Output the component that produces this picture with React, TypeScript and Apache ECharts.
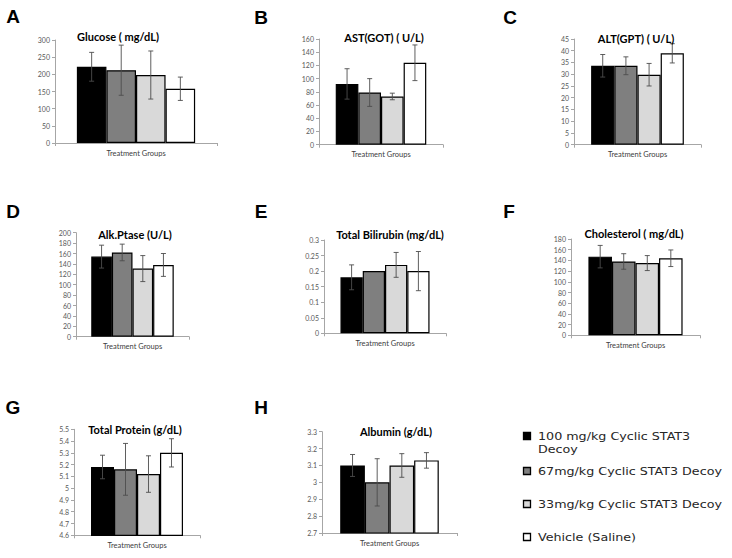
import React, { useEffect, useRef } from "react";
import * as echarts from "echarts";

// ---------- data ----------
const groups = [
  "100 mg/kg Cyclic STAT3 Decoy",
  "67mg/kg Cyclic STAT3 Decoy",
  "33mg/kg Cyclic STAT3 Decoy",
  "Vehicle (Saline)",
];
const category = ["Treatment Groups"];
const panelLetters = ["A", "B", "C", "D", "E", "F", "G", "H"];
const titles = [
  "Glucose ( mg/dL)",
  "AST(GOT) ( U/L)",
  "ALT(GPT) ( U/L)",
  "Alk.Ptase (U/L)",
  "Total Bilirubin (mg/dL)",
  "Cholesterol ( mg/dL)",
  "Total Protein (g/dL)",
  "Albumin (g/dL)",
];
const glucoseMean = [222, 212, 198, 158];
const glucoseSD = [42, 73, 70, 34];
const astMean = [92, 79, 73, 124];
const astSD = [23, 21, 5, 27];
const altMean = [33.6, 33.6, 29.8, 38.9];
const altSD = [4.8, 3.8, 4.8, 4.1];
const alpMean = [154, 162, 131, 138];
const alpSD = [22, 16, 25, 22];
const bilMean = [0.18, 0.2, 0.22, 0.2];
const bilSD = [0.04, 0, 0.04, 0.063];
const cholMean = [147, 138, 135, 144];
const cholSD = [21, 14.5, 14, 15.5];
const protMean = [5.18, 5.16, 5.12, 5.3];
const protSD = [0.1, 0.22, 0.155, 0.12];
const albMean = [3.1, 3.0, 3.1, 3.13];
const albSD = [0.065, 0.14, 0.07, 0.046];
const yMins = [0, 0, 0, 0, 0, 0, 4.6, 2.7];
const yMaxs = [300, 160, 45, 200, 0.3, 180, 5.5, 3.3];
const yIntervals = [50, 20, 5, 20, 0.05, 20, 0.1, 0.1];

const means = [glucoseMean, astMean, altMean, alpMean, bilMean, cholMean, protMean, albMean];
const sds = [glucoseSD, astSD, altSD, alpSD, bilSD, cholSD, protSD, albSD];

// ---------- styles / layout ----------
const barColors = ["#000000", "#7f7f7f", "#d9d9d9", "#ffffff"];
// [left, right-edge, top, bottom-edge] in px
const gridBoxes = [
  [55, 217, 40, 143],
  [319, 443, 39, 144.7],
  [574, 701, 39, 144.7],
  [76, 189, 232.7, 336.7],
  [324, 446, 240, 333.3],
  [571, 700, 239, 335.3],
  [74, 200, 429.3, 535.3],
  [322, 457, 431.7, 533],
];
const titlePos = [
  [118, 36], [384, 37.5], [636, 38.5], [135, 234],
  [390, 234], [634, 233.5], [135, 429], [396, 431.5],
];
const letterPos = [
  [13, 16.5], [261, 17], [510, 17], [13, 211.5],
  [261, 211.5], [509, 211], [13, 407], [261, 407],
];
const legendY = [436, 471, 504, 537];
const W = 732;
const H = 558;
const BAR_FRAC = 0.73;

export default function App() {
  const ref = useRef<HTMLDivElement>(null);
  useEffect(() => {
    if (!ref.current) return;
    const chart = echarts.init(ref.current, null, { renderer: "svg" });

    const grid: any[] = [];
    const xAxis: any[] = [];
    const yAxis: any[] = [];
    const series: any[] = [];
    const graphic: any[] = [];
    const fmt = (v: number) => String(parseFloat(v.toFixed(3)));

    for (let p = 0; p < 8; p++) {
      const [l, r, t, b] = gridBoxes[p];
      grid.push({ left: l, top: t, width: r - l, height: b - t, containLabel: false });
      xAxis.push({
        type: "category",
        gridIndex: p,
        data: category,
        axisLine: { lineStyle: { color: "#a6a6a6", width: 1 } },
        axisTick: { show: true, length: 3, lineStyle: { color: "#a6a6a6" } },
        axisLabel: { fontFamily: "Lato", fontSize: 7.5, color: "#404040", margin: 6 },
      });
      yAxis.push({
        type: "value",
        gridIndex: p,
        min: yMins[p],
        max: yMaxs[p],
        interval: yIntervals[p],
        axisLine: { show: true, lineStyle: { color: "#a6a6a6", width: 1 } },
        axisTick: { show: true, length: 3, lineStyle: { color: "#a6a6a6" } },
        splitLine: { show: false },
        axisLabel: {
          fontFamily: "Lato",
          fontSize: 7,
          color: "#595959",
          margin: 5,
          formatter: (v: number) => fmt(v),
        },
      });
      for (let g = 0; g < 4; g++) {
        series.push({
          type: "bar",
          name: groups[g],
          xAxisIndex: p,
          yAxisIndex: p,
          data: [means[p][g]],
          barGap: "0%",
          barCategoryGap: "27%",
          itemStyle: { color: barColors[g], borderColor: "#000", borderWidth: 1.2 },
          silent: true,
        });
      }
      series.push({
        type: "custom",
        xAxisIndex: p,
        yAxisIndex: p,
        z: 5,
        encode: { x: 0, y: 1 },
        data: means[p].map((m, g) => [0, m, sds[p][g], g]),
        renderItem: (params: any, api: any) => {
          const mean = api.value(1);
          const sd = api.value(2);
          const idx = api.value(3);
          if (!sd) return null;
          const center = api.coord([0, mean]);
          const catW = api.size([1, 0])[0];
          const barW = (catW * BAR_FRAC) / 4;
          const x = center[0] + (idx - 1.5) * barW;
          const yt = api.coord([0, mean + sd])[1];
          const yb = api.coord([0, mean - sd])[1];
          const cap = 2.5;
          const st = { stroke: "#4d4d4d", lineWidth: 0.9 };
          return {
            type: "group",
            children: [
              { type: "line", shape: { x1: x, y1: yt, x2: x, y2: yb }, style: st },
              { type: "line", shape: { x1: x - cap, y1: yt, x2: x + cap, y2: yt }, style: st },
              { type: "line", shape: { x1: x - cap, y1: yb, x2: x + cap, y2: yb }, style: st },
            ],
          };
        },
      });

      graphic.push({
        type: "text",
        x: titlePos[p][0],
        y: titlePos[p][1],
        z: 10,
        style: {
          text: titles[p],
          fontFamily: "Lato",
          fontWeight: "bold",
          fontSize: 11,
          fill: "#000",
          textAlign: "center",
          textVerticalAlign: "middle",
        },
      });
      graphic.push({
        type: "text",
        x: letterPos[p][0],
        y: letterPos[p][1],
        style: {
          text: panelLetters[p],
          fontFamily: "Liberation Sans",
          fontWeight: "bold",
          fontSize: 19,
          fill: "#000",
          textAlign: "center",
          textVerticalAlign: "middle",
        },
      });
    }

    // legend
    for (let g = 0; g < 4; g++) {
      graphic.push({
        type: "rect",
        shape: { x: 523.5, y: legendY[g] - 3.5, width: 7, height: 7 },
        style: { fill: barColors[g], stroke: "#000", lineWidth: 1.3 },
      });
      const label = g === 0 ? "100 mg/kg Cyclic STAT3\nDecoy" : groups[g];
      graphic.push({
        type: "text",
        x: 538,
        y: legendY[g] - 6,
        scaleX: 1.27,
        style: {
          text: label,
          fontFamily: "DejaVu Sans",
          fontSize: 10,
          lineHeight: 13,
          fill: "#262626",
          textAlign: "left",
          textVerticalAlign: "top",
        },
      });
    }

    chart.setOption({
      animation: false,
      backgroundColor: "#ffffff",
      grid,
      xAxis,
      yAxis,
      series,
      graphic,
    });
    return () => chart.dispose();
  }, []);
  return (
    <div
      ref={ref}
      style={{ position: "fixed", left: 0, top: 0, width: W, height: H }}
    />
  );
}
